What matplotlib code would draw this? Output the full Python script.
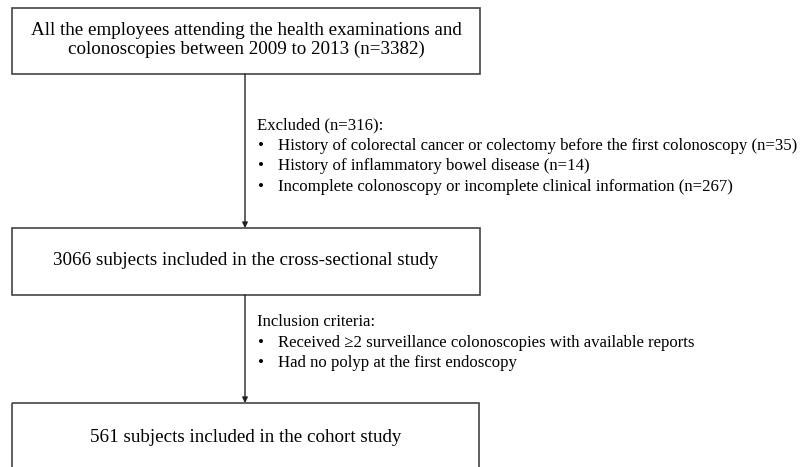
import matplotlib
matplotlib.use("Agg")
import matplotlib.pyplot as plt
from matplotlib.patches import Rectangle

box_texts = [
    "All the employees attending the health examinations and\ncolonoscopies between 2009 to 2013 (n=3382)",
    "3066 subjects included in the cross-sectional study",
    "561 subjects included in the cohort study",
]
excluded_title = "Excluded (n=316):"
excluded_items = [
    "History of colorectal cancer or colectomy before the first colonoscopy (n=35)",
    "History of inflammatory bowel disease (n=14)",
    "Incomplete colonoscopy or incomplete clinical information (n=267)",
]
inclusion_title = "Inclusion criteria:"
inclusion_items = [
    "Received \u22652 surveillance colonoscopies with available reports",
    "Had no polyp at the first endoscopy",
]

FAM = ["Liberation Serif", "DejaVu Serif"]
plt.rcParams["font.family"] = FAM

W, H = 806, 467
fig = plt.figure(figsize=(W / 100, H / 100), dpi=100)
ax = fig.add_axes([0, 0, 1, 1])
ax.set_xlim(0, W)
ax.set_ylim(H, 0)
ax.axis("off")

fs_box = 13.7
fs_list = 12.1
ec = "#444444"

# boxes (x0, y0, x1, y1)
boxes = [(12, 8, 480, 74), (12, 228, 480, 295), (12, 403, 479, 480)]
for (x0, y0, x1, y1), t in zip(boxes, box_texts):
    ax.add_patch(Rectangle((x0, y0), x1 - x0, y1 - y0, fill=False, ec=ec, lw=1.2, clip_on=True))
    ty = (y0 + y1) / 2 - 1 if y1 < H else 437
    ax.text((x0 + x1) / 2, ty, t, ha="center", va="center", fontsize=fs_box,
            linespacing=1.2, color="black", family=FAM)

# arrows
cx = 245
for ya, yb in [(74, 228), (295, 403)]:
    ax.annotate("", xy=(cx, yb), xytext=(cx, ya),
                arrowprops=dict(arrowstyle="-|>", color="#222222", lw=1.0,
                                mutation_scale=8, shrinkA=0, shrinkB=0))

def side_list(title, items, y0, dy=20.7):
    ax.text(257, y0, title, ha="left", va="center", fontsize=fs_list, family=FAM)
    for i, it in enumerate(items):
        y = y0 + dy * (i + 1)
        ax.text(258, y, "\u2022", ha="left", va="center", fontsize=fs_list, family=FAM)
        ax.text(278, y, it, ha="left", va="center", fontsize=fs_list, family=FAM)

side_list(excluded_title, excluded_items, 125)
side_list(inclusion_title, inclusion_items, 322)

fig.savefig("out.png", dpi=100)
